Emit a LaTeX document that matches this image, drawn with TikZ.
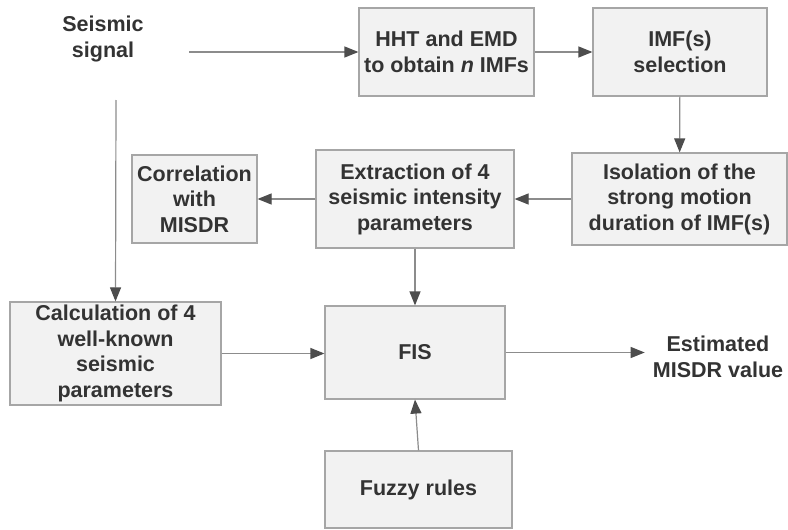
\documentclass[tikz,border=0pt]{standalone}
\usepackage{fontspec}
\setmainfont{Liberation Sans}
\usepackage{tikz}
\usetikzlibrary{arrows.meta,positioning}
\definecolor{boxfill}{HTML}{F2F2F2}
\definecolor{boxline}{HTML}{A6A6A6}
\definecolor{wire}{HTML}{8C8C8C}
\definecolor{tip}{HTML}{4D4D4D}
\definecolor{ink}{HTML}{333333}

\begin{document}
\begin{tikzpicture}[x=1pt, y=-1pt,
  font=\fontsize{21.5}{25.5}\selectfont\bfseries, text=ink,
  blk/.style={draw=boxline, fill=boxfill, line width=1.2pt, align=center, inner sep=2pt},
  >={Triangle[length=14pt,width=11pt,color=tip]},
  wr/.style={draw=wire, line width=1.2pt, ->}]
  \useasboundingbox (0,0) rectangle (788,530);
  % top row
  \node[align=center] (sig) at (103,39) {Seismic\\signal};
  \node[blk,minimum width=175pt,minimum height=88pt] (hht) at (446.5,52) {HHT and EMD\\to obtain \textit{n} IMFs};
  \node[blk,minimum width=174pt,minimum height=88pt] (imf) at (680,52) {IMF(s)\\selection};
  % middle row
  \node[blk,minimum width=215pt,minimum height=92pt] (iso) at (679.5,199) {Isolation of the\\strong motion\\duration of IMF(s)};
  \node[blk,minimum width=198pt,minimum height=98pt] (ext) at (415,199) {Extraction of 4\\seismic intensity\\parameters};
  \node[blk,minimum width=125pt,minimum height=88pt] (cor) at (194.5,199) {Correlation\\with\\MISDR};
  % bottom rows
  \node[blk,minimum width=211pt,minimum height=103pt] (calc) at (115.5,353.5) {Calculation of 4\\well-known\\seismic\\parameters};
  \node[blk,minimum width=180pt,minimum height=93pt] (fis) at (415,352.5) {FIS};
  \node[align=center,inner sep=8pt] (est) at (718,357) {Estimated\\MISDR value};
  \node[blk,minimum width=187pt,minimum height=77pt] (fuz) at (418.5,489.5) {Fuzzy rules};
  % free ends of the signal lines
  \coordinate (sigout) at (189,52);
  \coordinate (sigdown) at (116,100);

  \draw[wr] (sigout) -- (hht.west);
  \draw[wr] (hht) -- (imf);
  \draw[wr] (imf) -- (iso);
  \draw[wr] (iso) -- (ext);
  \draw[wr] (ext) -- (cor);
  \draw[wr] (ext) -- (fis);
  \draw[wr] (sigdown) -- (calc.north);
  \draw[wr] (calc.east) -- (calc.east -| fis.west);
  \draw[wr] (fis.east) -- (fis.east -| est.west);
  \draw[wr] (fuz.north) -- (fis.south);
\end{tikzpicture}
\end{document}
